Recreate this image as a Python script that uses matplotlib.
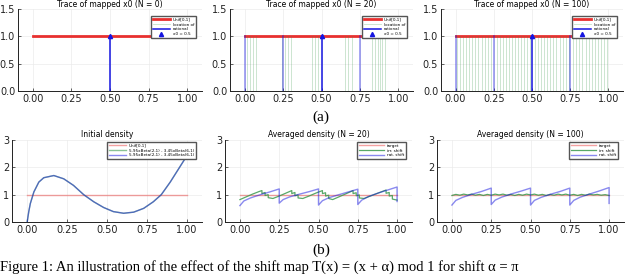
import numpy as np
import matplotlib
matplotlib.use('Agg')
import matplotlib.pyplot as plt


# ---- data ----
x0 = 0.5
rational_orbit = [0.0, 0.25, 0.75]

# irrational orbit locations, N = 20
irr_orbit_20 = [0.015, 0.035, 0.055, 0.075, 0.24, 0.26, 0.28, 0.30,
                0.44, 0.46, 0.48, 0.65, 0.67, 0.70, 0.83, 0.85, 0.865,
                0.88, 0.895, 0.91]

# irrational orbit locations, N = 100
irr_orbit_100 = [0.01, 0.03, 0.05, 0.07, 0.09, 0.11, 0.13, 0.15, 0.17, 0.19,
                 0.21, 0.23, 0.27, 0.29, 0.31, 0.33, 0.35, 0.37, 0.39, 0.41,
                 0.43, 0.45, 0.47, 0.49, 0.52, 0.54, 0.56, 0.58, 0.60, 0.62,
                 0.64, 0.66, 0.68, 0.70, 0.72, 0.74, 0.77, 0.79, 0.81, 0.83,
                 0.85, 0.87, 0.89, 0.91, 0.93, 0.95, 0.97, 0.99]

# initial density
init_x = [0.0, 0.01, 0.02, 0.042, 0.073, 0.104, 0.167, 0.229, 0.29, 0.354,
          0.417, 0.479, 0.54, 0.604, 0.667, 0.73, 0.79, 0.84, 0.896, 0.948,
          1.0]
init_y = [0.0, 0.38, 0.68, 1.1, 1.46, 1.62, 1.70, 1.58, 1.34, 1.0,
          0.74, 0.53, 0.38, 0.32, 0.36, 0.5, 0.74, 1.0, 1.46, 1.94,
          2.42]

# averaged density, rational shift, N = 20
rat20_x = [0.0, 0.025, 0.067, 0.13, 0.19, 0.25, 0.25,
           0.275, 0.317, 0.38, 0.44, 0.5, 0.5,
           0.525, 0.567, 0.63, 0.69, 0.75, 0.75,
           0.775, 0.817, 0.88, 0.94, 1.0, 1.0]
rat20_y = [0.60, 0.77, 0.88, 1.0, 1.1, 1.21, 0.69,
           0.82, 0.92, 1.02, 1.11, 1.21, 0.62,
           0.78, 0.89, 1.0, 1.1, 1.20, 0.64,
           0.80, 0.93, 1.06, 1.17, 1.28, 0.75]

# averaged density, irrational shift, N = 20
irr20_x = [0.0, 0.04, 0.08, 0.12, 0.14, 0.14, 0.16, 0.16, 0.18, 0.18, 0.21,
           0.25, 0.29, 0.33, 0.33, 0.35, 0.35, 0.37, 0.37, 0.40,
           0.44, 0.48, 0.525, 0.525, 0.545, 0.545, 0.565, 0.565, 0.59,
           0.63, 0.67, 0.72, 0.72, 0.74, 0.74, 0.76, 0.76, 0.79,
           0.83, 0.88, 0.93, 0.93, 0.95, 0.95, 0.97, 0.97, 1.0]
irr20_y = [0.82, 0.92, 1.02, 1.11, 1.15, 1.04, 1.08, 0.97, 1.0, 0.89, 0.86,
           0.95, 1.05, 1.15, 1.04, 1.08, 0.96, 0.99, 0.88, 0.86,
           0.95, 1.05, 1.15, 1.04, 1.07, 0.95, 0.98, 0.86, 0.82,
           0.92, 1.02, 1.15, 1.04, 1.07, 0.96, 0.99, 0.88, 0.86,
           0.95, 1.06, 1.17, 1.05, 1.08, 0.95, 0.97, 0.84, 0.80]

# averaged density, rational shift, N = 100
rat100_x = [0.0, 0.025, 0.067, 0.13, 0.19, 0.25, 0.25,
            0.275, 0.317, 0.38, 0.44, 0.5, 0.5,
            0.525, 0.567, 0.63, 0.69, 0.75, 0.75,
            0.775, 0.817, 0.88, 0.94, 1.0, 1.0]
rat100_y = [0.62, 0.79, 0.90, 1.02, 1.12, 1.24, 0.64,
            0.80, 0.91, 1.03, 1.13, 1.24, 0.62,
            0.79, 0.90, 1.02, 1.12, 1.24, 0.62,
            0.79, 0.91, 1.03, 1.14, 1.26, 0.68]

# averaged density, irrational shift, N = 100
irr100_x = [0.0, 0.025, 0.05, 0.075, 0.1, 0.125, 0.15, 0.175, 0.2, 0.225,
            0.25, 0.275, 0.3, 0.325, 0.35, 0.375, 0.4, 0.425, 0.45, 0.475,
            0.5, 0.525, 0.55, 0.575, 0.6, 0.625, 0.65, 0.675, 0.7, 0.725,
            0.75, 0.775, 0.8, 0.825, 0.85, 0.875, 0.9, 0.925, 0.95, 0.975,
            1.0]
irr100_y = [0.97, 1.01, 0.98, 1.02, 0.99, 1.02, 0.98, 1.01, 0.97, 1.01,
            0.98, 1.02, 0.99, 1.02, 0.98, 1.01, 0.97, 1.01, 0.98, 1.02,
            0.99, 1.02, 0.98, 1.01, 0.97, 1.01, 0.98, 1.02, 0.99, 1.02,
            0.98, 1.01, 0.97, 1.01, 0.98, 1.02, 0.99, 1.01, 0.98, 1.0,
            0.97]

top_titles = ['Trace of mapped x0 (N = 0)', 'Trace of mapped x0 (N = 20)',
              'Trace of mapped x0 (N = 100)']
bottom_titles = ['Initial density', 'Averaged density (N = 20)',
                 'Averaged density (N = 100)']
x_ticks = [0.0, 0.25, 0.5, 0.75, 1.0]

W, H = 640, 275
RED = '#e8302f'
GREEN = '#3c9a4e'
BLUE = '#1515e0'


def px_axes(fig, left, right, top, bottom):
    return fig.add_axes([left / W, 1 - bottom / H, (right - left) / W,
                         (bottom - top) / H])


def style(ax, yticks, ylim, ylabels):
    ax.set_xlim(-0.095, 1.095)
    ax.set_ylim(*ylim)
    ax.set_xticks(x_ticks)
    ax.set_xticklabels(['0.00', '0.25', '0.50', '0.75', '1.00'])
    ax.set_yticks(yticks)
    ax.set_yticklabels(ylabels)
    for s in ['top', 'right']:
        ax.spines[s].set_visible(False)
    for s in ['left', 'bottom']:
        ax.spines[s].set_linewidth(0.7)
        ax.spines[s].set_color('#222222')
    ax.tick_params(labelsize=7, length=2, width=0.5, pad=2,
                   colors='#222222', direction='in')
    ax.grid(True, color='#ebebeb', lw=0.5)
    ax.set_axisbelow(True)


fig = plt.figure(figsize=(6.4, 2.75), dpi=100)

top_pos = [(18, 202), (230, 413), (441, 623)]
bot_pos = [(12, 202), (225, 412), (437, 624)]
orbits = [[], irr_orbit_20, irr_orbit_100]

# ---- top row: traces ----
for i, (l, r) in enumerate(top_pos):
    ax = px_axes(fig, l, r, 9, 91)
    style(ax, [0, 0.5, 1.0, 1.5], (0, 1.5), ['0.0', '0.5', '1.0', '1.5'])
    ax.plot([0, 1], [1, 1], color=RED, lw=2, label='Unif[0,1]')
    for k, xv in enumerate(orbits[i]):
        ax.plot([xv, xv], [0, 1], color=GREEN, alpha=0.3, lw=0.6,
                label='location of' if k == 0 else None)
    if i == 0:
        ax.plot([], [], color=GREEN, alpha=0.3, lw=0.6, label='location of')
    else:
        for xv in rational_orbit:
            ax.plot([xv, xv], [0, 1], color=BLUE, alpha=0.45, lw=1.2)
    ax.plot([x0, x0], [0, 1], color=BLUE, lw=1.1, label='rational')
    ax.plot([x0], [1], '^', color=BLUE, ms=3, label='x0 = 0.5')
    ax.set_title(top_titles[i], fontsize=5.5, pad=1)
    ax.legend(loc='upper right', fontsize=3, frameon=True, fancybox=False,
              edgecolor='#555555', framealpha=1, borderpad=0.4,
              handlelength=4, labelspacing=0.2,
              bbox_to_anchor=(0.98, 0.94))

# ---- bottom row: densities ----
for i, (l, r) in enumerate(bot_pos):
    ax = px_axes(fig, l, r, 140, 222)
    style(ax, [0, 1, 2, 3], (0, 3), ['0', '1', '2', '3'])
    if i == 0:
        ax.plot([0, 1], [1, 1], color=RED, alpha=0.45, lw=1,
                label='Unif[0,1]')
        ax.plot(init_x, init_y, color=GREEN, alpha=0.6, lw=1,
                label='5.95xBeta(2,1) - 3.45xBeta(6,1)')
        ax.plot(init_x, init_y, color=BLUE, alpha=0.5, lw=1,
                label='5.95xBeta(2,1) - 3.45xBeta(6,1)')
        leg_kw = dict(handlelength=4)
    else:
        gx, gy = (irr20_x, irr20_y) if i == 1 else (irr100_x, irr100_y)
        bx, by = (rat20_x, rat20_y) if i == 1 else (rat100_x, rat100_y)
        ax.plot([0, 1], [1, 1], color=RED, alpha=0.45, lw=1, label='target')
        ax.plot(gx, gy, color=GREEN, alpha=0.85, lw=0.9, label='irr. shift')
        ax.plot(bx, by, color=BLUE, alpha=0.5, lw=1, label='rat. shift')
        leg_kw = dict(handlelength=6)
    ax.set_title(bottom_titles[i], fontsize=5.5, pad=2)
    ax.legend(loc='upper right', fontsize=3, frameon=True, fancybox=False,
              edgecolor='#555555', framealpha=1, borderpad=0.4,
              labelspacing=0.2, bbox_to_anchor=(0.98, 1.0), **leg_kw)

# ---- captions ----
fig.text(321 / W, 1 - 117 / H, '(a)', ha='center', va='center',
         family='Liberation Serif', fontsize=11)
fig.text(321 / W, 1 - 250 / H, '(b)', ha='center', va='center',
         family='Liberation Serif', fontsize=11)
fig.text(0.0, 0.004,
         'Figure 1: An illustration of the effect of the shift map '
         'T(x) = (x + \u03b1) mod 1 for shift \u03b1 = \u03c0',
         ha='left', va='bottom', family='Liberation Serif', fontsize=10.5)

fig.savefig('out.png', dpi=100)
